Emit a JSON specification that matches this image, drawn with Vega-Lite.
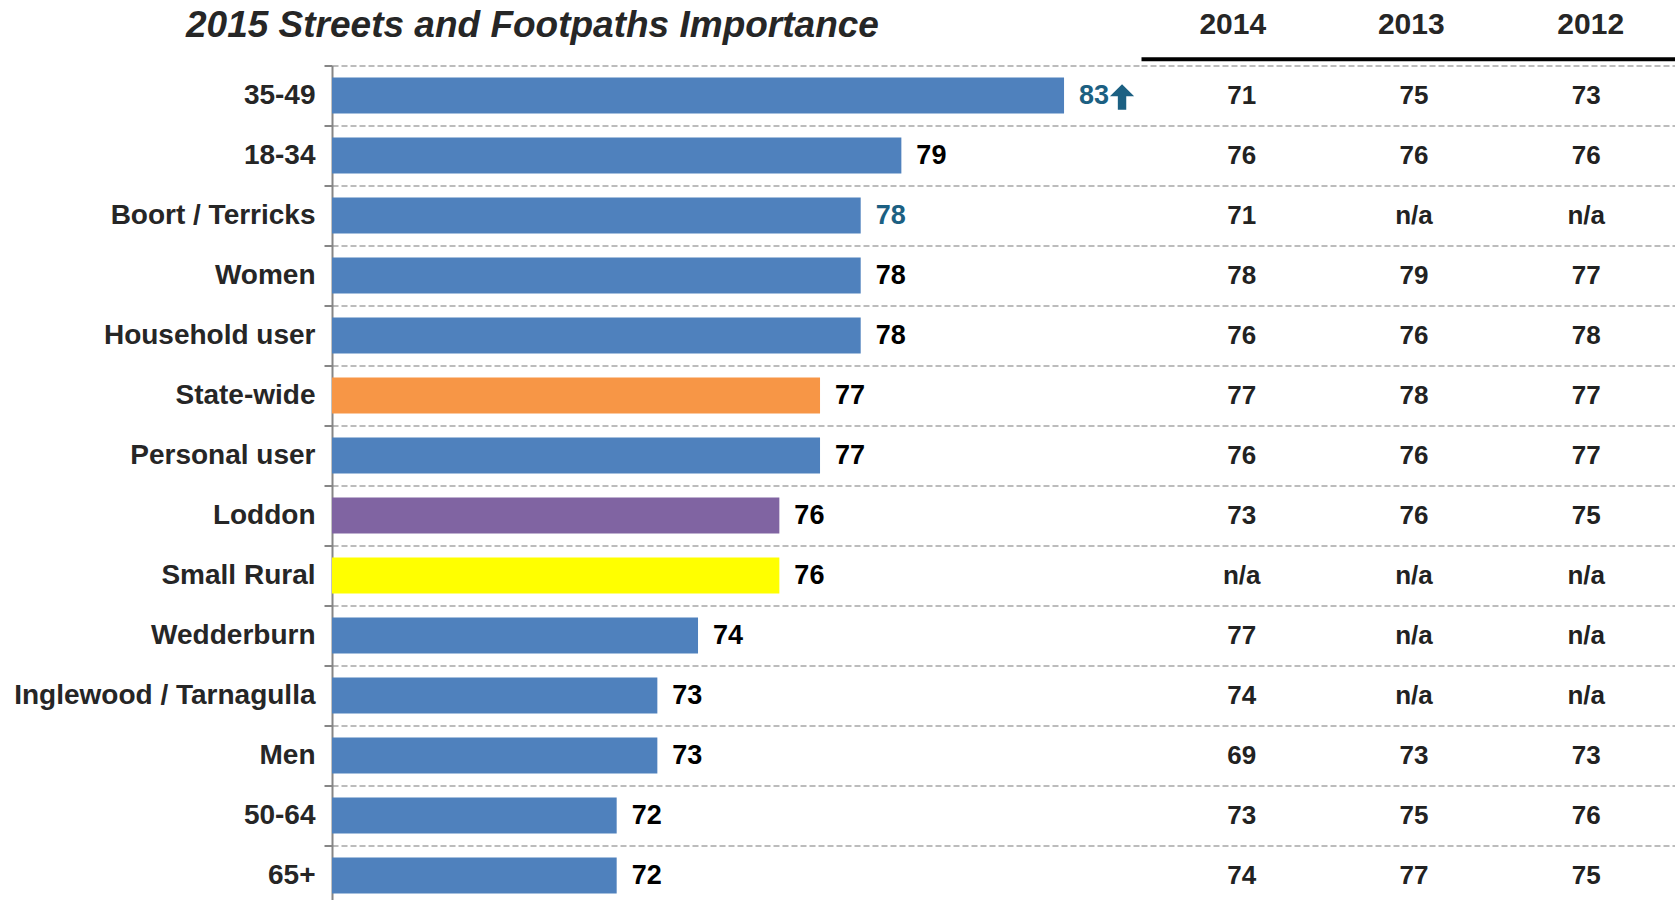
{
  "$schema": "https://vega.github.io/schema/vega-lite/v6.json",
  "padding": {"left": 0, "top": 6.5, "right": 0, "bottom": 0},
  "background": "white",
  "config": {"view": {"stroke": null}, "font": "Liberation Sans", "text": {"font": "Liberation Sans"}},
  "datasets": {
    "rows": [
      {"group": "35-49", "score": 83, "kind": "sub", "tone": "sig", "arrow": "up", "2014": "71", "2013": "75", "2012": "73"},
      {"group": "18-34", "score": 79, "kind": "sub", "tone": "normal", "arrow": "none", "2014": "76", "2013": "76", "2012": "76"},
      {"group": "Boort / Terricks", "score": 78, "kind": "sub", "tone": "sig", "arrow": "none", "2014": "71", "2013": "n/a", "2012": "n/a"},
      {"group": "Women", "score": 78, "kind": "sub", "tone": "normal", "arrow": "none", "2014": "78", "2013": "79", "2012": "77"},
      {"group": "Household user", "score": 78, "kind": "sub", "tone": "normal", "arrow": "none", "2014": "76", "2013": "76", "2012": "78"},
      {"group": "State-wide", "score": 77, "kind": "state", "tone": "normal", "arrow": "none", "2014": "77", "2013": "78", "2012": "77"},
      {"group": "Personal user", "score": 77, "kind": "sub", "tone": "normal", "arrow": "none", "2014": "76", "2013": "76", "2012": "77"},
      {"group": "Loddon", "score": 76, "kind": "council", "tone": "normal", "arrow": "none", "2014": "73", "2013": "76", "2012": "75"},
      {"group": "Small Rural", "score": 76, "kind": "small", "tone": "normal", "arrow": "none", "2014": "n/a", "2013": "n/a", "2012": "n/a"},
      {"group": "Wedderburn", "score": 74, "kind": "sub", "tone": "normal", "arrow": "none", "2014": "77", "2013": "n/a", "2012": "n/a"},
      {"group": "Inglewood / Tarnagulla", "score": 73, "kind": "sub", "tone": "normal", "arrow": "none", "2014": "74", "2013": "n/a", "2012": "n/a"},
      {"group": "Men", "score": 73, "kind": "sub", "tone": "normal", "arrow": "none", "2014": "69", "2013": "73", "2012": "73"},
      {"group": "50-64", "score": 72, "kind": "sub", "tone": "normal", "arrow": "none", "2014": "73", "2013": "75", "2012": "76"},
      {"group": "65+", "score": 72, "kind": "sub", "tone": "normal", "arrow": "none", "2014": "74", "2013": "77", "2012": "75"}
    ]
  },
  "spacing": 0,
  "bounds": "flush",
  "resolve": {"scale": {"y": "independent", "x": "independent"}},
  "hconcat": [
    {
      "width": 808.5,
      "height": 840,
      "title": {
        "text": "2015 Streets and Footpaths Importance",
        "anchor": "start",
        "frame": "group",
        "dx": -146,
        "baseline": "alphabetic",
        "offset": -22.6,
        "fontSize": 37,
        "fontStyle": "italic",
        "fontWeight": "bold",
        "color": "#262626",
        "font": "Liberation Sans"
      },
      "data": {"name": "rows"},
      "encoding": {
        "y": {
          "field": "group",
          "type": "nominal",
          "sort": null,
          "scale": {
            "domain": ["35-49", "18-34", "Boort / Terricks", "Women", "Household user", "State-wide", "Personal user", "Loddon", "Small Rural", "Wedderburn", "Inglewood / Tarnagulla", "Men", "50-64", "65+"],
            "paddingInner": 0,
            "paddingOuter": 0
          },
          "axis": {
            "title": null,
            "labelFontSize": 28,
            "labelFontWeight": "bold",
            "labelColor": "#262626",
            "labelFont": "Liberation Sans",
            "labelPadding": 9,
            "labelLimit": 400,
            "tickSize": 8,
            "tickColor": "#868686",
            "tickWidth": 2,
            "domainColor": "#868686",
            "domainWidth": 2,
            "tickBand": "extent",
            "grid": true,
            "gridColor": "#A6A6A6",
            "gridDash": [6, 3],
            "gridWidth": 1.3,
            "minExtent": 331.5,
            "maxExtent": 331.5
          }
        }
      },
      "layer": [
        {
          "mark": {"type": "bar", "height": {"band": 0.6}},
          "encoding": {
            "x": {"field": "score", "type": "quantitative", "scale": {"domain": [65, 84.88], "zero": false, "nice": false}, "axis": null},
            "x2": {"datum": 65},
            "color": {
              "field": "kind",
              "type": "nominal",
              "scale": {"domain": ["sub", "state", "council", "small"], "range": ["#4F81BD", "#F79646", "#8064A2", "#FFFF00"]},
              "legend": null
            }
          }
        },
        {
          "mark": {"type": "text", "align": "left", "baseline": "middle", "dx": 15, "fontSize": 27, "fontWeight": "bold", "font": "Liberation Sans"},
          "encoding": {
            "x": {"field": "score", "type": "quantitative"},
            "text": {"field": "score", "type": "quantitative"},
            "color": {
              "field": "tone",
              "type": "nominal",
              "scale": {"domain": ["normal", "sig"], "range": ["#000000", "#1C6082"]},
              "legend": null
            }
          }
        },
        {
          "transform": [{"filter": "datum.arrow == 'up'"}],
          "mark": {
            "type": "point",
            "shape": "M0,-1L0.95,-0.05L0.33,-0.05L0.33,1L-0.33,1L-0.33,-0.05L-0.95,-0.05Z",
            "filled": true,
            "size": 650,
            "xOffset": 58,
            "yOffset": 1.5,
            "color": "#1C6082",
            "opacity": 1
          },
          "encoding": {
            "x": {"field": "score", "type": "quantitative"}
          }
        }
      ],
      "resolve": {"scale": {"color": "independent"}}
    },
    {
      "width": 546,
      "height": 840,
      "data": {"name": "rows"},
      "transform": [{"fold": ["2014", "2013", "2012"], "as": ["year", "val"]}],
      "mark": {"type": "text", "fontSize": 26, "fontWeight": "bold", "color": "#222222", "baseline": "middle", "font": "Liberation Sans"},
      "encoding": {
        "x": {
          "field": "year",
          "type": "nominal",
          "sort": null,
          "scale": {"type": "band", "domain": ["2014", "2013", "2012"], "paddingInner": 0, "paddingOuter": 0.085},
          "axis": {
            "orient": "top",
            "title": null,
            "labelAngle": 0,
            "labelFontSize": 30,
            "labelFontWeight": "bold",
            "labelColor": "#262626",
            "labelFont": "Liberation Sans",
            "labelOffset": {"expr": "datum.value == '2014' ? -9 : datum.value == '2012' ? 4.5 : -2.7"},
            "ticks": false,
            "tickSize": 0,
            "labelPadding": 25.3,
            "labelBaseline": "alphabetic",
            "domainColor": "#000000",
            "domainWidth": 4,
            "offset": 6.7,
            "grid": false
          }
        },
        "y": {
          "field": "group",
          "type": "nominal",
          "sort": null,
          "scale": {
            "domain": ["35-49", "18-34", "Boort / Terricks", "Women", "Household user", "State-wide", "Personal user", "Loddon", "Small Rural", "Wedderburn", "Inglewood / Tarnagulla", "Men", "50-64", "65+"],
            "paddingInner": 0,
            "paddingOuter": 0
          },
          "axis": {
            "title": null,
            "labels": false,
            "ticks": false,
            "domain": false,
            "grid": true,
            "tickBand": "extent",
            "gridColor": "#A6A6A6",
            "gridDash": [6, 3],
            "gridWidth": 1.3
          }
        },
        "text": {"field": "val", "type": "nominal"}
      }
    }
  ]
}
